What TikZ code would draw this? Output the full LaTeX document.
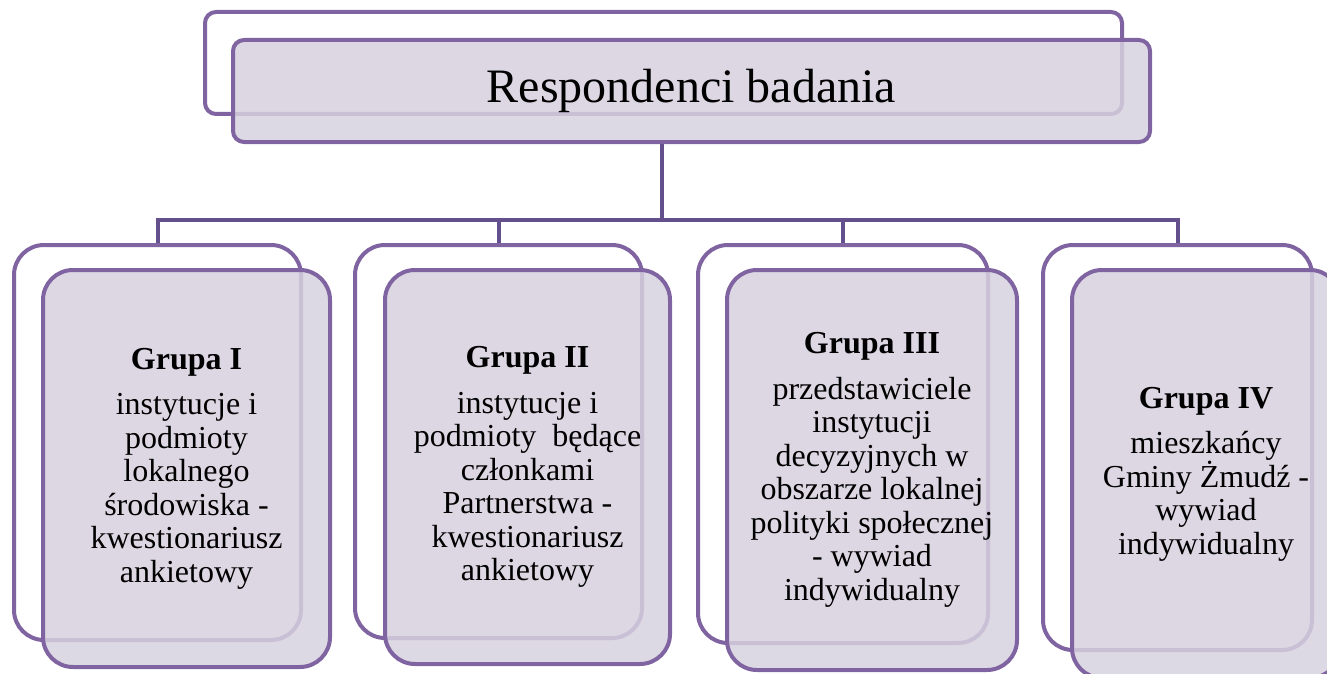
\documentclass[tikz,border=0pt]{standalone}
\usepackage{fontspec}
\setmainfont{Liberation Serif}
\usetikzlibrary{positioning}

\definecolor{boxline}{RGB}{128,100,162}
\definecolor{busline}{RGB}{100,80,140}
\definecolor{boxfill}{RGB}{214,209,223}

\tikzset{
  backbox/.style={draw=boxline,line width=4pt,fill=white,rounded corners=30pt,
    minimum width=287pt,minimum height=395pt,inner sep=0pt},
  frontbox/.style={draw=boxline,line width=4pt,fill=boxfill,fill opacity=.85,
    text opacity=1,rounded corners=30pt,minimum width=287pt,minimum height=397pt,
    inner sep=0pt,align=center,font=\fontsize{32}{33.5}\selectfont},
  titleback/.style={backbox,rounded corners=11pt,minimum width=917pt,minimum height=102pt},
  titlefront/.style={frontbox,rounded corners=11pt,minimum width=917pt,minimum height=102pt,
    font=\fontsize{48}{52}\selectfont},
  bus/.style={draw=busline,line width=4pt}
}

\begin{document}
\begin{tikzpicture}[x=1pt,y=-1pt,node distance=0pt,on grid]
  \useasboundingbox (0,0) rectangle (1327,674);
  \coordinate (hbus) at (0,220);

  \node[titleback] (tback) at (663.5,63) {};
  \coordinate (tpos) at (691.5,91);
  \coordinate (tfoot) at (662,142);

  \node[backbox] (back1) at (157.5,442.5) {};
  \node[backbox,minimum height=393pt] (back2) at (498.5,441.5) {};
  \node[backbox,minimum width=290pt,minimum height=398pt] (back3) at (843,444) {};
  \node[backbox,minimum width=269pt,minimum height=405pt] (back4) at (1177.5,447.5) {};

  % connectors
  \path[bus] (tfoot) -- (tfoot |- hbus) -| (back1.north);
  \path[bus] (tfoot |- hbus) -| (back2.north);
  \path[bus] (tfoot |- hbus) -| (back3.north);
  \path[bus] (tfoot |- hbus) -| (back4.north);

  \node[titlefront] (tfront) at (tpos) {Respondenci badania};

  \node[frontbox] (front1) [below right=26pt and 29pt of back1]
    {\textbf{Grupa I}\\[12pt] instytucje i\\ podmioty\\ lokalnego\\ środowiska -\\ kwestionariusz\\ ankietowy};
  \node[frontbox,minimum width=285pt,minimum height=394pt] (front2) [below right=25.5pt and 29pt of back2]
    {\textbf{Grupa II}\\[12pt] instytucje i\\ podmioty\ \ będące\\ członkami\\ Partnerstwa -\\ kwestionariusz\\ ankietowy};
  \node[frontbox,minimum width=290pt,minimum height=400pt] (front3) [below right=26pt and 29pt of back3]
    {\textbf{Grupa III}\\[12pt] przedstawiciele\\ instytucji\\ decyzyjnych w\\ obszarze lokalnej\\ polityki społecznej\\ - wywiad\\ indywidualny};
  \node[frontbox,minimum width=268pt,minimum height=408pt] (front4) [below right=26.5pt and 28.5pt of back4]
    {\textbf{Grupa IV}\\[12pt] mieszkańcy\\ Gminy Żmudź -\\ wywiad\\ indywidualny};
\end{tikzpicture}
\end{document}
